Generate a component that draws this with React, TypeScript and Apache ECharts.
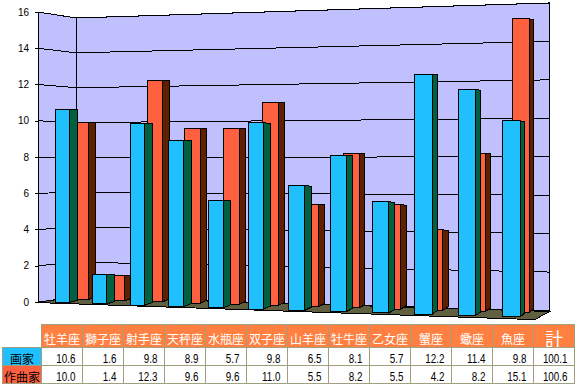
import React, { useEffect, useRef } from "react";
import * as echarts from "echarts";

const categories = ["牡羊座", "獅子座", "射手座", "天秤座", "水瓶座", "双子座", "山羊座", "牡牛座", "乙女座", "蟹座", "蠍座", "魚座"];
const painterValues = [10.6, 1.6, 9.8, 8.9, 5.7, 9.8, 6.5, 8.1, 5.7, 12.2, 11.4, 9.8];
const composerValues = [10.0, 1.4, 12.3, 9.6, 9.6, 11.0, 5.5, 8.2, 5.5, 4.2, 8.2, 15.1];
const yTicks = [0, 2, 4, 6, 8, 10, 12, 14, 16];
const painterName = "画家";
const composerName = "作曲家";
const totalName = "計";
const painterTotal = "100.1";
const composerTotal = "100.6";

const GRID = { left: 38, top: 12, width: 480, height: 290 };
const UNIT = GRID.height / 16;
const BLACK = "#000000";
const WALL = "#C0C0FF";
const FLOOR = "#606040";
const BLUE = "#20C0FF";
const BLUE_SIDE = "#006040";
const RED = "#FF6040";
const RED_SIDE = "#602000";
const TABLE_LINE = "#A0A080";
const HEADER = "#FF8040";

// The chart's perspective, applied to the positions the axes give.
const barShape = {
  front: {
    left: (i: number) => 55 + 36.88 * i + 0.344 * i * i,
    width: (i: number) => 14 + 0.36 * i,
    side: (i: number) => 8.4 - 0.35 * i,
    base: (i: number) => 302.7 + 1.27 * i,
    scale: (i: number) => 18.18 + 0.163 * i,
    faceColor: BLUE,
    sideColor: BLUE_SIDE,
  },
  back: {
    left: (i: number) => 55 + 36.88 * i + 0.344 * i * i + 18.6 - 0.78 * i,
    width: (i: number) => 14.7 + 0.2 * i,
    side: (i: number) => 7.4 - 0.25 * i,
    base: (i: number) => 299.5 + 1.19 * i,
    scale: (i: number) => 17.7 + 0.159 * i,
    faceColor: RED,
    sideColor: RED_SIDE,
  },
};

const barRenderer = (shape: typeof barShape.front) => (_: any, api: any) => {
  const idx = api.value(0);
  const val = api.value(1);
  const [cx, top] = api.coord([idx, val]);
  const bottom = api.coord([idx, 0])[1];
  const i = (cx - GRID.left) / (GRID.width / 12) - 0.5;
  const units = (bottom - top) / UNIT;
  const x0 = shape.left(i);
  const x1 = x0 + shape.width(i);
  const x2 = x1 + shape.side(i);
  const yb = shape.base(i);
  const yt = yb - units * shape.scale(i);
  const lift = 2.5 + 0.1 * i;
  const stroke = { stroke: BLACK, lineWidth: 1 };
  return {
    type: "group",
    children: [
      {
        type: "polygon",
        shape: { points: [[x1, yt], [x2, yt + 0.06 * i], [x2, yb - lift], [x1, yb]] },
        style: { fill: shape.sideColor, ...stroke },
      },
      {
        type: "polygon",
        shape: { points: [[x0, yt], [x1, yt], [x1, yb], [x0, yb]] },
        style: { fill: shape.faceColor, ...stroke },
      },
    ],
  };
};

const wallRenderer = () => {
  const stroke = { stroke: BLACK, lineWidth: 1 };
  return {
    type: "group",
    children: [
      {
        type: "polygon",
        shape: { points: [[38, 12], [76, 18], [76, 297], [38, 302]] },
        style: { fill: WALL, ...stroke },
      },
      {
        type: "polygon",
        shape: { points: [[76, 18], [549, 3], [549, 311], [76, 297]] },
        style: { fill: WALL, ...stroke },
      },
    ],
  };
};

const gridRenderer = (_: any, api: any) => {
  const v = api.value(1);
  const y = api.coord([0, v])[1];
  const bottom = api.coord([0, 0])[1];
  const u = (bottom - y) / UNIT;
  const yBackL = 297 - u * 17.44;
  const yBackR = 310.5 - u * 19.22;
  return {
    type: "polyline",
    shape: { points: [[38, y], [76, yBackL], [549, yBackR]] },
    style: { fill: "none", stroke: BLACK, lineWidth: 1 },
  };
};

const floorRenderer = () => ({
  type: "polygon",
  shape: { points: [[35, 302.5], [76, 297], [549.5, 311.5], [535, 319.5], [516, 319]] },
  style: { fill: FLOOR, stroke: BLACK, lineWidth: 1 },
});

const tableX0 = 41.5;
const colW = 41;
const rows = [324.5, 347.5, 365.5, 383.5];
const labelX0 = 2.5;

function tableElements() {
  const els: any[] = [];
  const border = { stroke: TABLE_LINE, lineWidth: 1 };
  const rect = (x: number, y: number, width: number, height: number, fill: string) =>
    els.push({ type: "rect", shape: { x, y, width, height }, style: { fill, ...border } });
  const text = (t: string, x: number, y: number, fill: string, size: number, align: string, family: string, scaleX = 1) =>
    els.push({
      type: "text",
      x,
      y,
      scaleX,
      style: { text: t, x: 0, y: 0, fill, fontSize: size, fontFamily: family, textAlign: align, textVerticalAlign: "middle" },
    });
  const headers = [...categories, totalName];
  const CJK = '"Noto Sans CJK JP"';
  const NUM = '"Liberation Sans"';
  headers.forEach((h, c) => {
    const x = tableX0 + c * colW;
    rect(x, rows[0], colW, rows[1] - rows[0], HEADER);
    text(h, x + colW / 2, c === 12 ? 337.5 : 338.5, "#FFFFFF", c === 12 ? 18 : 12, "center", CJK);
  });
  rect(labelX0, rows[1], tableX0 - labelX0, rows[2] - rows[1], BLUE);
  rect(labelX0, rows[2], tableX0 - labelX0, rows[3] - rows[2], RED);
  text(painterName, (labelX0 + tableX0) / 2, 358, BLACK, 12, "center", CJK);
  text(composerName, (labelX0 + tableX0) / 2, 376, BLACK, 12, "center", CJK);
  const rowVals = [
    [...painterValues.map((v) => v.toFixed(1)), painterTotal],
    [...composerValues.map((v) => v.toFixed(1)), composerTotal],
  ];
  rowVals.forEach((vals, r) => {
    vals.forEach((v, c) => {
      const x = tableX0 + c * colW;
      rect(x, rows[r + 1], colW, rows[r + 2] - rows[r + 1], "#FFFFFF");
      text(v, x + colW - 7, rows[r + 1] + 11.5, BLACK, 12, "right", NUM, 0.82);
    });
  });
  return els;
}

export default function App() {
  const ref = useRef<HTMLDivElement>(null);
  useEffect(() => {
    const chart = echarts.init(ref.current!, undefined, { renderer: "svg" });
    chart.setOption({
      animation: false,
      backgroundColor: "#FFFFFF",
      grid: { ...GRID, containLabel: false },
      xAxis: { type: "category", data: categories, show: false },
      yAxis: {
        type: "value",
        min: 0,
        max: 16,
        interval: 2,
        z: 10,
        axisLine: { show: false },
        axisTick: { show: true, length: 3, lineStyle: { color: BLACK, width: 1 } },
        axisLabel: { color: BLACK, fontSize: 10, fontFamily: '"Liberation Sans"', margin: 9 },
        splitLine: { show: false },
      },
      series: [
        { type: "custom", name: "wall", silent: true, renderItem: wallRenderer, data: [[categories[0], 16]], z: 1 },
        {
          type: "custom",
          name: "grid",
          silent: true,
          renderItem: gridRenderer,
          data: yTicks.filter((t) => t > 0).map((t) => [categories[0], t]),
          z: 2,
        },
        { type: "custom", name: "floor", silent: true, renderItem: floorRenderer, data: [[categories[0], 0]], z: 3 },
        {
          type: "custom",
          name: composerName,
          renderItem: barRenderer(barShape.back),
          data: composerValues.map((v, i) => [categories[i], v]),
          encode: { x: 0, y: 1 },
          z: 4,
        },
        {
          type: "custom",
          name: painterName,
          renderItem: barRenderer(barShape.front),
          data: painterValues.map((v, i) => [categories[i], v]),
          encode: { x: 0, y: 1 },
          z: 5,
        },
      ],
      graphic: { elements: tableElements() },
    });
    return () => chart.dispose();
  }, []);
  return (
    <>
      <style>{`svg path,svg polygon,svg polyline,svg line,svg rect{shape-rendering:crispEdges}`}</style>
      <div ref={ref} style={{ position: "absolute", left: 0, top: 0, width: 580, height: 387 }} />
    </>
  );
}
